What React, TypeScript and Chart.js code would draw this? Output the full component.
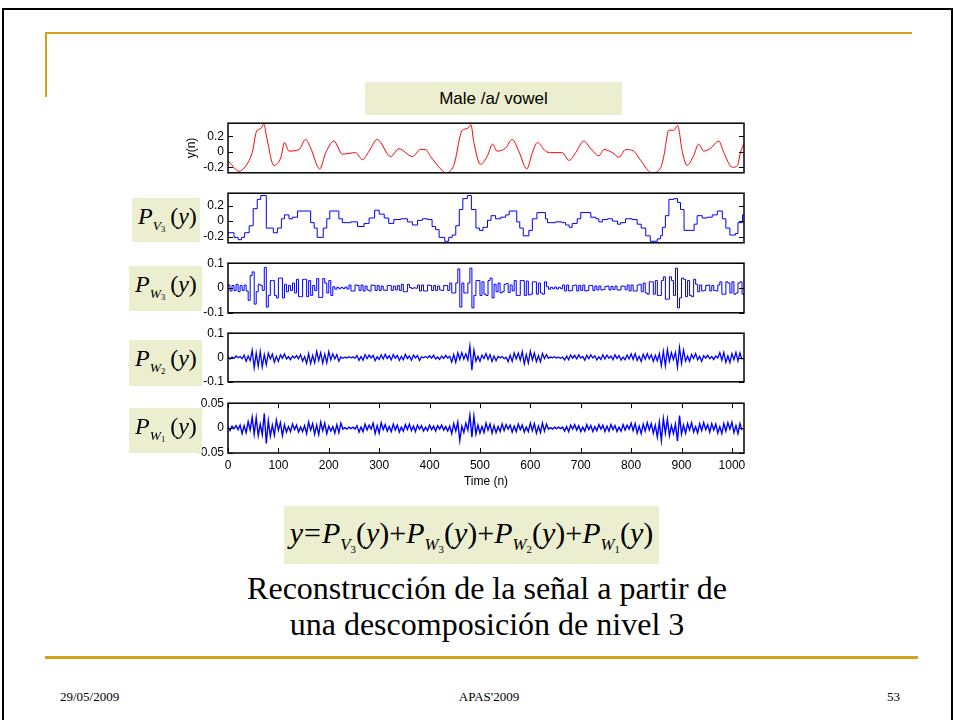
import React, { useEffect, useRef } from 'react';
import { Chart, registerables } from 'chart.js';

Chart.register(...registerables);

// ---------------- data ----------------
const X_TICKS = [0, 100, 200, 300, 400, 500, 600, 700, 800, 900, 1000];
const STEP = 4;

// y(n) : original male /a/ vowel (sample index, value)
const Y_N = [0,2,22,42,48,57,65,71,77,91,105,112,121,141,154,164,182,194,210,227,253,267,280,296,323,339,366,382,392,402,422,432,448,465,475,482,488,501,515,525,534,551,564,577,593,604,614,630,640,663,677,690,706,719,736,746,763,776,789,805,819,841,859,865,875,885,892,902,911,924,934,944,958,974,984,1001,1011,1017,1023];
const Y_V = [-0.12,-0.13,-0.25,-0.11,-0.01,0.27,0.30,0.36,0.18,-0.175,-0.07,0.12,0.01,0.03,0.16,0.05,-0.22,-0.01,0.14,-0.03,-0.01,-0.10,0.01,0.16,-0.06,0.04,-0.06,0.03,0.03,-0.06,-0.22,-0.27,-0.175,0.28,0.30,0.35,0.12,-0.16,-0.05,0.10,0.01,0.05,0.16,0.01,-0.22,-0.01,0.12,0.01,-0.01,-0.01,-0.11,-0.01,0.14,0.05,-0.05,0.03,-0.01,-0.07,0.03,0.01,-0.11,-0.27,-0.20,-0.05,0.28,0.28,0.34,-0.01,-0.175,-0.05,0.10,0.01,0.05,0.14,-0.01,-0.20,-0.175,-0.01,0.10];

// P_V3(y) : approximation (step starts, value)
const V3_N = [0,12,20,27,33,42,50,58,65,76,90,98,106,112,121,128,138,164,171,177,189,196,202,220,227,244,257,270,280,291,300,310,319,329,343,356,366,376,386,396,405,412,419,430,438,445,452,459,466,475,483,492,499,506,515,522,531,541,551,558,573,579,586,597,604,613,630,634,650,663,670,677,683,693,700,720,730,736,743,753,763,773,779,789,802,812,820,829,838,852,858,862,868,875,885,892,898,905,925,931,941,951,961,971,981,988,996,1007,1012,1021,1024];
const V3_V = [-0.15,-0.21,-0.24,-0.21,-0.15,-0.06,0.16,0.28,0.33,-0.09,-0.15,-0.09,0.03,0.08,0.03,0.05,0.13,-0.02,-0.09,-0.21,-0.09,0.03,0.13,0.03,-0.02,-0.01,-0.07,-0.03,0.04,0.14,0.09,0.04,-0.03,0.02,0.03,-0.01,-0.05,0.01,0.03,0.02,-0.07,-0.11,-0.21,-0.26,-0.21,-0.18,-0.06,0.15,0.29,0.33,0.15,-0.09,-0.12,-0.08,0.01,0.07,0.03,0.05,0.08,0.13,-0.01,-0.09,-0.19,-0.12,0.03,0.11,0.03,-0.02,-0.01,-0.02,-0.05,-0.08,-0.03,0.03,0.11,0.05,0.03,-0.01,0.02,0.03,0.0,-0.04,-0.02,0.03,0.02,-0.04,-0.09,-0.19,-0.26,-0.23,-0.19,-0.08,0.07,0.28,0.29,0.24,0.15,-0.12,-0.04,0.07,0.04,0.05,0.08,0.13,0.03,-0.09,-0.18,-0.16,-0.02,0.08,0.08];

// P_W3(y) : detail level 3, one value every 4 samples
const W3_V = [
0.012,-0.012,0.01,-0.01,0.015,-0.015,0.01,-0.01,0.012,-0.012,-0.05,0.05,0.065,-0.065,-0.015,0.015,
0.01,-0.01,0.083,-0.077,-0.03,0.03,0.03,-0.03,-0.04,0.04,0.04,-0.04,0.015,-0.015,0.01,-0.01,
0.02,-0.02,0.035,-0.035,-0.035,0.035,0.035,-0.035,0.03,-0.03,0.01,-0.01,0.038,-0.038,-0.038,0.038,
0.02,-0.02,0.03,-0.03,0.005,-0.005,0.003,-0.003,0.002,-0.002,0.004,-0.004,0.012,-0.012,-0.012,0.012,
0.01,-0.01,0.012,-0.012,0.008,-0.008,-0.012,0.012,0.01,-0.01,0.01,-0.01,0.008,-0.008,-0.01,0.01,
0.01,-0.01,0.008,-0.008,0.01,-0.01,0.015,-0.015,-0.015,0.015,0.002,-0.002,0.001,-0.001,0.012,-0.012,
0.012,-0.012,-0.012,0.012,0.01,-0.01,0.01,-0.01,0.008,-0.008,-0.01,0.01,0.01,-0.01,0.02,-0.02,
-0.02,0.02,0.077,-0.077,0.02,-0.02,-0.02,0.02,0.08,-0.08,-0.03,0.03,0.03,-0.03,0.025,-0.025,
-0.03,0.03,0.04,-0.04,0.015,-0.015,0.02,-0.02,-0.015,0.015,0.018,-0.018,0.012,-0.012,0.03,-0.03,
-0.03,0.03,0.03,-0.03,0.028,-0.028,-0.025,0.025,0.025,-0.025,0.02,-0.02,-0.025,0.025,0.005,-0.005,
0.003,-0.003,0.004,-0.004,0.003,-0.003,0.012,-0.012,0.012,-0.012,-0.01,0.01,0.012,-0.012,0.01,-0.01,
0.012,-0.012,-0.01,0.01,0.01,-0.01,0.008,-0.008,0.008,-0.008,-0.006,0.006,0.008,-0.008,0.006,-0.006,
0.008,-0.008,-0.008,0.008,0.007,-0.007,0.012,-0.012,0.012,-0.012,-0.012,0.012,0.015,-0.015,0.02,-0.02,
-0.025,0.025,0.025,-0.025,0.03,-0.03,-0.03,0.03,0.045,-0.045,-0.045,0.045,0.03,-0.03,0.08,-0.08,
-0.04,0.04,0.035,-0.035,0.03,-0.03,-0.035,0.035,0.015,-0.015,0.012,-0.012,-0.01,0.01,0.012,-0.012,
0.01,-0.01,-0.012,0.012,0.025,-0.025,-0.025,0.025,0.02,-0.02,0.025,-0.025,-0.02,0.02,0.025,-0.025
];

// P_W2(y) : detail level 2, one value every 4 samples
const W2_V = [
0.003,-0.006,0.002,-0.004,0.006,-0.001,0.004,-0.005,0.010,-0.016,0.006,-0.013,0.030,-0.042,0.018,-0.036,
0.025,-0.039,0.012,-0.030,0.018,-0.006,0.014,-0.019,0.005,-0.016,0.011,-0.003,0.015,-0.006,0.004,-0.009,
0.006,-0.002,0.008,-0.005,0.012,-0.015,0.004,-0.024,0.016,-0.025,0.009,-0.022,0.025,-0.012,0.020,-0.023,
0.014,-0.022,0.024,-0.010,0.015,-0.006,0.012,-0.015,0.002,-0.003,0.001,-0.002,0.003,-0.001,0.002,-0.003,
0.008,-0.012,0.004,-0.011,0.012,-0.005,0.010,-0.002,0.009,-0.013,0.003,-0.008,0.011,-0.006,0.013,-0.004,
0.007,-0.010,0.012,-0.003,0.009,-0.012,0.005,-0.009,0.013,-0.004,0.006,-0.011,0.010,-0.002,0.008,-0.012,
0.003,-0.001,0.004,-0.002,0.007,-0.003,0.009,-0.006,0.002,-0.008,0.006,-0.004,0.009,-0.002,0.005,-0.019,
0.012,-0.020,0.019,-0.008,0.020,-0.006,0.015,-0.011,0.048,-0.052,0.030,-0.015,0.005,-0.016,0.010,-0.004,
0.016,-0.008,0.012,-0.016,0.006,-0.013,0.005,-0.002,0.004,-0.005,0.001,-0.017,0.010,-0.016,0.019,-0.006,
0.018,-0.011,0.024,-0.026,0.012,-0.023,0.026,-0.010,0.018,-0.017,0.008,-0.018,0.017,-0.005,0.012,-0.003,
0.002,-0.001,0.003,-0.002,0.001,-0.003,0.002,-0.010,0.006,-0.009,0.011,-0.003,0.009,-0.006,0.011,-0.002,
0.004,-0.011,0.009,-0.005,0.011,-0.002,0.007,-0.010,0.003,-0.008,0.011,-0.006,0.010,-0.003,0.006,-0.009,
0.011,-0.004,0.008,-0.011,0.002,-0.009,0.010,-0.006,0.015,-0.008,0.016,-0.012,0.005,-0.016,0.013,-0.007,
0.016,-0.006,0.011,-0.016,0.009,-0.014,0.016,-0.034,0.026,-0.035,0.033,-0.016,0.020,-0.009,0.021,-0.040,
0.042,-0.025,0.030,-0.015,0.006,-0.016,0.012,-0.004,0.016,-0.010,0.005,-0.016,0.008,-0.003,0.009,-0.005,
0.004,-0.008,0.006,-0.002,0.020,-0.011,0.021,-0.020,0.007,-0.021,0.016,-0.009,0.021,-0.014,0.019,-0.008
];

// P_W1(y) : detail level 1, one value every 4 samples
const W1_V = [
0.002,-0.005,0.004,-0.001,0.005,-0.003,0.006,-0.011,0.005,-0.009,0.013,-0.004,0.022,-0.012,0.021,-0.015,
0.008,-0.013,0.029,-0.031,0.015,-0.016,0.006,-0.014,0.016,-0.004,0.011,-0.015,0.007,-0.008,0.003,-0.007,
0.008,-0.003,0.006,-0.008,0.002,-0.007,0.005,-0.011,0.012,-0.004,0.009,-0.012,0.006,-0.013,0.012,-0.005,
0.010,-0.011,0.004,-0.006,0.003,-0.010,0.007,-0.009,0.010,-0.002,0.001,-0.002,0.002,-0.001,0.002,-0.002,
0.005,-0.008,0.002,-0.007,0.008,-0.004,0.006,-0.002,0.010,-0.011,0.005,-0.010,0.011,-0.003,0.007,-0.006,
0.003,-0.007,0.008,-0.004,0.006,-0.008,0.002,-0.006,0.007,-0.003,0.008,-0.005,0.004,-0.007,0.006,-0.002,
0.005,-0.006,0.002,-0.005,0.006,-0.003,0.004,-0.006,0.005,-0.002,0.006,-0.004,0.003,-0.006,0.004,-0.011,
0.009,-0.006,0.012,-0.025,0.004,-0.009,0.010,-0.004,0.026,-0.018,0.024,-0.012,0.006,-0.010,0.003,-0.009,
0.010,-0.004,0.008,-0.010,0.005,-0.009,0.003,-0.007,0.008,-0.005,0.007,-0.002,0.006,-0.008,0.004,-0.007,
0.008,-0.003,0.006,-0.008,0.002,-0.007,0.010,-0.005,0.009,-0.010,0.004,-0.009,0.010,-0.006,0.008,-0.002,
0.001,-0.002,0.002,-0.001,0.002,-0.001,0.002,-0.006,0.003,-0.007,0.006,-0.002,0.007,-0.004,0.005,-0.007,
0.002,-0.006,0.007,-0.003,0.005,-0.007,0.003,-0.005,0.007,-0.002,0.006,-0.007,0.004,-0.006,0.007,-0.003,
0.005,-0.007,0.002,-0.006,0.007,-0.004,0.006,-0.002,0.010,-0.005,0.009,-0.010,0.004,-0.011,0.008,-0.006,
0.011,-0.004,0.009,-0.010,0.006,-0.018,0.012,-0.025,0.019,-0.010,0.018,-0.015,0.005,-0.011,0.008,-0.026,
0.025,-0.012,0.006,-0.010,0.009,-0.004,0.011,-0.008,0.003,-0.010,0.009,-0.005,0.011,-0.003,0.007,-0.008,
0.009,-0.004,0.008,-0.010,0.003,-0.011,0.009,-0.006,0.011,-0.002,0.012,-0.009,0.005,-0.011,0.009,-0.004
];

const TICKS_A = [-0.2, 0, 0.2];
const TICKS_B = [-0.1, 0, 0.1];
const TICKS_C = [-0.05, 0, 0.05];

// ---------------- styling ----------------
const SANS = "'Liberation Sans', Arial, Helvetica, sans-serif";
const SERIF = "'Liberation Serif', 'Times New Roman', Times, serif";
const BOX_BG = 'rgb(235,239,207)';
const GOLD = 'rgb(212,162,24)';

const CANVAS_LEFT = 150;
const CANVAS_W = 610;
const PLOT_LEFT = 228;
const PLOT_RIGHT = 744;
const PAD = 10;
const X_AXIS_H = 40;

const idx = (arr: number[]) => arr.map((_, i) => i * STEP);
const withEnd = (xs: number[], ys: number[]) => ({ xs: [...xs, 1024], ys: [...ys, ys[ys.length - 1]] });

const W3_XY = withEnd(idx(W3_V), W3_V);

const PANELS = [
  { key: 'y', top: 122, bottom: 174, min: -0.27, max: 0.37, ticks: TICKS_A, xs: Y_N, ys: Y_V, color: '#ff0000', stepped: false, smooth: true, title: 'y(n)', showX: false, lw: 1 },
  { key: 'v3', top: 192, bottom: 244, min: -0.28, max: 0.36, ticks: TICKS_A, xs: V3_N, ys: V3_V, color: '#0000ff', stepped: true, smooth: false, title: '', showX: false, lw: 1 },
  { key: 'w3', top: 262, bottom: 314, min: -0.1, max: 0.1, ticks: TICKS_B, xs: W3_XY.xs, ys: W3_XY.ys, color: '#0000ff', stepped: true, smooth: false, title: '', showX: false, lw: 1 },
  { key: 'w2', top: 332, bottom: 383, min: -0.1, max: 0.1, ticks: TICKS_B, xs: idx(W2_V), ys: W2_V, color: '#0000ff', stepped: false, smooth: false, title: '', showX: false, lw: 1.3 },
  { key: 'w1', top: 402, bottom: 453, min: -0.05, max: 0.05, ticks: TICKS_C, xs: idx(W1_V), ys: W1_V, color: '#0000ff', stepped: false, smooth: false, title: '', showX: true, lw: 1.4 },
];

type Panel = typeof PANELS[number];

function makeFramePlugin(showX: boolean) {
  return {
    id: 'frame',
    afterDatasetsDraw(chart: any) {
      const { ctx, chartArea: a, scales } = chart;
      const TL = 5;
      ctx.save();
      ctx.strokeStyle = '#000';
      ctx.lineWidth = 1;
      ctx.beginPath();
      const ys = scales.y;
      ys.ticks.forEach((t: any) => {
        const py = Math.round(ys.getPixelForValue(t.value)) + 0.5;
        ctx.moveTo(a.left, py); ctx.lineTo(a.left + TL, py);
        ctx.moveTo(a.right, py); ctx.lineTo(a.right - TL, py);
      });
      if (showX) {
        const xs = scales.x;
        xs.ticks.forEach((t: any) => {
          const px = Math.round(xs.getPixelForValue(t.value)) + 0.5;
          ctx.moveTo(px, a.top); ctx.lineTo(px, a.top + TL);
          ctx.moveTo(px, a.bottom); ctx.lineTo(px, a.bottom - TL);
        });
      }
      ctx.stroke();
      ctx.lineWidth = 1.5;
      ctx.strokeRect(a.left, a.top, a.right - a.left, a.bottom - a.top);
      ctx.restore();
    },
  };
}

function PanelChart({ p }: { p: Panel }) {
  const ref = useRef<HTMLCanvasElement>(null);
  const h = p.bottom - p.top + PAD + (p.showX ? X_AXIS_H + 4 : PAD);
  useEffect(() => {
    const canvas = ref.current;
    if (!canvas) return;
    const data = p.xs.map((x, i) => ({ x, y: p.ys[i] }));
    const chart = new Chart(canvas, {
      type: 'line',
      data: {
        datasets: [{
          data,
          borderColor: p.color,
          borderWidth: p.lw,
          pointRadius: 0,
          pointHoverRadius: 0,
          stepped: p.stepped,
          tension: p.smooth ? 0.4 : 0,
          cubicInterpolationMode: p.smooth ? 'monotone' : 'default',
          fill: false,
        }],
      },
      options: {
        animation: false,
        responsive: false,
        maintainAspectRatio: false,
        devicePixelRatio: 1,
        events: [],
        parsing: false,
        layout: { padding: { left: 0, right: CANVAS_LEFT + CANVAS_W - PLOT_RIGHT, top: PAD, bottom: p.showX ? 4 : PAD } },
        plugins: { legend: { display: false }, tooltip: { enabled: false }, title: { display: false } },
        scales: {
          x: {
            type: 'linear',
            display: p.showX,
            min: 0,
            max: 1024,
            afterBuildTicks: (s: any) => { s.ticks = X_TICKS.map((v) => ({ value: v })); },
            afterFit: (s: any) => { s.height = p.showX ? X_AXIS_H : 0; },
            grid: { display: false, drawTicks: false, tickLength: 0 },
            border: { display: false },
            ticks: {
              autoSkip: false, maxRotation: 0, padding: 5, color: '#000',
              font: { family: SANS, size: 12 },
              callback: (v: any) => String(v),
            },
            title: { display: p.showX, text: 'Time (n)', color: '#000', font: { family: SANS, size: 12 }, padding: { top: 0, bottom: 4 } },
          },
          y: {
            type: 'linear',
            min: p.min,
            max: p.max,
            afterBuildTicks: (s: any) => { s.ticks = p.ticks.map((v) => ({ value: v })); },
            afterFit: (s: any) => { s.width = PLOT_LEFT - CANVAS_LEFT; },
            grid: { display: false, drawTicks: false, tickLength: 0 },
            border: { display: false },
            ticks: {
              autoSkip: false, padding: 4, color: '#000',
              font: { family: SANS, size: 12 },
              callback: (v: any) => String(v),
            },
            title: { display: !!p.title, text: p.title, color: '#000', font: { family: SANS, size: 12 }, padding: { top: 34, bottom: 0 } },
          },
        },
      },
      plugins: [makeFramePlugin(p.showX)],
    } as any);
    return () => chart.destroy();
  }, []);
  return (
    <canvas
      ref={ref}
      width={CANVAS_W}
      height={h}
      style={{ position: 'absolute', left: CANVAS_LEFT, top: p.top - PAD, width: CANVAS_W, height: h }}
    />
  );
}

function Term({ sub, num, size, gap }: { sub: string; num: string; size: number; gap: number }) {
  return (
    <>
      <i>P</i>
      <span style={{ fontSize: size * 0.56, position: 'relative', top: size * 0.24 }}>
        <i>{sub}</i>
        <span style={{ fontSize: size * 0.36, position: 'relative', top: size * 0.08 }}>{num}</span>
      </span>
      <span style={{ marginLeft: gap }}>(</span><i>y</i>)
    </>
  );
}

function PLabel({ left, top, width, height, sub, num }: { left: number; top: number; width: number; height: number; sub: string; num: string }) {
  return (
    <div style={{ position: 'absolute', left, top, width, height, background: BOX_BG }}>
      <div style={{ position: 'absolute', left: 6, top: 6, fontFamily: SERIF, fontSize: 24, lineHeight: 1, whiteSpace: 'nowrap', color: '#000' }}>
        <Term sub={sub} num={num} size={24} gap={5} />
      </div>
    </div>
  );
}

export default function App() {
  return (
    <div style={{ position: 'absolute', left: 0, top: 0, width: 954, height: 720, background: '#fff', overflow: 'hidden' }}>
      {/* slide frame */}
      <div style={{ position: 'absolute', left: 2, top: 8, width: 947, height: 760, border: '2px solid #000' }} />
      {/* gold decoration */}
      <div style={{ position: 'absolute', left: 45, top: 32, width: 867, height: 2, background: GOLD }} />
      <div style={{ position: 'absolute', left: 45, top: 32, width: 2, height: 65, background: GOLD }} />
      <div style={{ position: 'absolute', left: 45, top: 656, width: 873, height: 3, background: GOLD }} />

      {/* chart title */}
      <div style={{ position: 'absolute', left: 365, top: 82, width: 257, height: 33, background: BOX_BG, fontFamily: SANS, fontSize: 17, lineHeight: '33px', textAlign: 'center', color: '#000' }}>
        Male /a/ vowel
      </div>

      {PANELS.map((p) => <PanelChart key={p.key} p={p} />)}

      <PLabel left={132} top={198} width={68} height={44} sub="V" num="3" />
      <PLabel left={129} top={266} width={73} height={45} sub="W" num="3" />
      <PLabel left={129} top={340} width={73} height={46} sub="W" num="2" />
      <PLabel left={129} top={408} width={73} height={45} sub="W" num="1" />

      {/* formula */}
      <div style={{ position: 'absolute', left: 284, top: 506, width: 375, height: 58, background: BOX_BG }}>
        <div style={{ position: 'absolute', left: 0, right: 0, top: 2, textAlign: 'center', fontFamily: SERIF, fontSize: 30, lineHeight: '50px', whiteSpace: 'nowrap', color: '#000' }}>
          <i>y</i><span style={{ margin: '0 1px' }}>=</span>
          <Term sub="V" num="3" size={30} gap={0} />+
          <Term sub="W" num="3" size={30} gap={0} />+
          <Term sub="W" num="2" size={30} gap={0} />+
          <Term sub="W" num="1" size={30} gap={0} />
        </div>
      </div>

      {/* caption */}
      <div style={{ position: 'absolute', left: 187, width: 600, top: 570, textAlign: 'center', fontFamily: SERIF, fontSize: 32, lineHeight: '36px', color: '#000' }}>
        Reconstrucción de la señal a partir de<br />una descomposición de nivel 3
      </div>

      {/* footer */}
      <div style={{ position: 'absolute', left: 60, top: 689, fontFamily: SERIF, fontSize: 13, color: '#000' }}>29/05/2009</div>
      <div style={{ position: 'absolute', left: 389, width: 200, top: 689, textAlign: 'center', fontFamily: SERIF, fontSize: 13, color: '#000' }}>APAS'2009</div>
      <div style={{ position: 'absolute', left: 800, width: 100, top: 689, textAlign: 'right', fontFamily: SERIF, fontSize: 13, color: '#000' }}>53</div>
    </div>
  );
}
